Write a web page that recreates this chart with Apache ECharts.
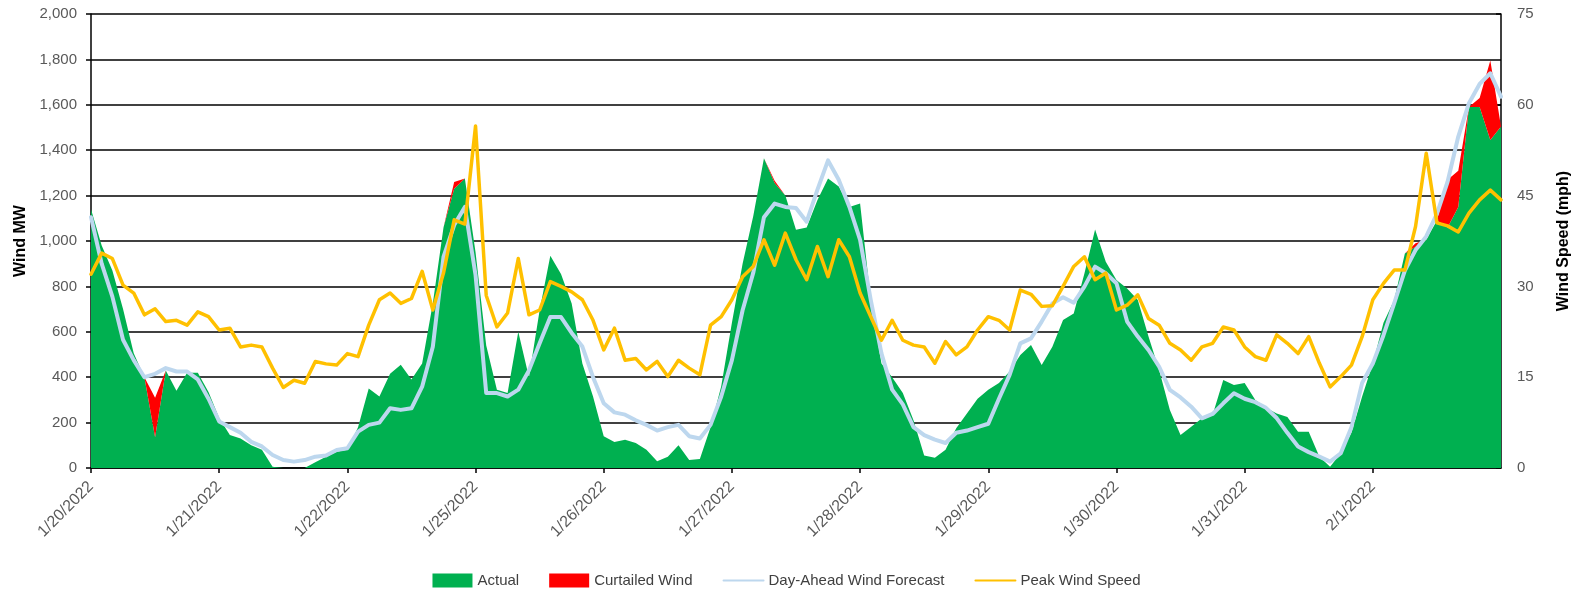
<!DOCTYPE html>
<html>
<head>
<meta charset="utf-8">
<script src="https://cdn.jsdelivr.net/npm/echarts@6/dist/echarts.min.js"></script>
<style>
html,body{margin:0;padding:0;background:#fff;}
#chart{width:1573px;height:589px;}
</style>
</head>
<body>
<div id="chart"></div>
<script>
// Day labels (data has 2-hour steps; 1/23 and 1/24 are absent in the source)
const days = ['1/20/2022','1/21/2022','1/22/2022','1/25/2022','1/26/2022','1/27/2022','1/28/2022','1/29/2022','1/30/2022','1/31/2022','2/1/2022'];
const slotHours = ['0:00','2:00','4:00','6:00','8:00','10:00','12:00','14:00','16:00','18:00','20:00','22:00'];
const endLabel = '2/2/2022 0:00';

// Actual wind generation (MW)
const actual = [
 1140, 980, 870, 700, 505, 400, 135, 430, 340, 420,
 420, 335, 220, 145, 130, 100, 80, 5, 0, 0,
 0, 25, 50, 72, 80, 180, 350, 315, 415, 455,
 390, 460, 725, 1060, 1230, 1275, 950, 540, 345, 330,
 600, 400, 695, 935, 855, 725, 460, 315, 140, 115,
 125, 110, 80, 30, 50, 100, 35, 40, 180, 360,
 640, 900, 1110, 1365, 1255, 1200, 1050, 1060, 1180, 1275,
 1240, 1150, 1165, 740, 460, 400, 330, 210, 55, 45,
 80, 175, 240, 305, 345, 375, 425, 498, 542, 454,
 534, 652, 681, 857, 1051, 909, 828, 791, 740, 579,
 431, 256, 145, 182, 219, 233, 388, 366, 375, 300,
 265, 240, 225, 160, 160, 50, 5, 65, 155, 315,
 460, 640, 740, 945, 975, 1005, 1090, 1060, 1150, 1590,
 1590, 1445, 1504
];

// Curtailed wind (MW, stacked on top of actual)
const curtailed = [
 0, 0, 0, 0, 0, 0, 175, 0, 0, 0,
 0, 0, 0, 0, 0, 0, 0, 0, 0, 0,
 0, 0, 0, 0, 0, 0, 0, 0, 0, 0,
 0, 0, 0, 0, 30, 0, 0, 0, 0, 0,
 0, 0, 0, 0, 0, 0, 0, 0, 0, 0,
 0, 0, 0, 0, 0, 0, 0, 0, 0, 0,
 0, 0, 0, 0, 10, 0, 0, 0, 0, 0,
 0, 0, 0, 0, 0, 0, 0, 0, 0, 0,
 0, 0, 0, 0, 0, 0, 0, 0, 0, 0,
 0, 0, 0, 0, 0, 0, 0, 0, 0, 0,
 0, 0, 0, 0, 0, 0, 0, 0, 0, 0,
 0, 0, 0, 0, 0, 0, 0, 0, 0, 0,
 0, 0, 0, 0, 15, 0, 0, 210, 160, 0,
 40, 350, 0
];

// Day-ahead wind forecast (MW)
const forecast = [
 1105, 900, 755, 565, 475, 400, 415, 440, 425, 425,
 390, 305, 205, 180, 155, 115, 95, 57, 35, 28,
 35, 50, 55, 79, 87, 160, 190, 200, 263, 256,
 263, 358, 534, 930, 1070, 1150, 850, 330, 330, 315,
 345, 430, 550, 665, 665, 595, 535, 400, 285, 245,
 235, 210, 190, 165, 180, 190, 140, 130, 190, 315,
 475, 695, 860, 1105, 1165, 1150, 1145, 1085, 1225, 1355,
 1270, 1150, 1005, 740, 505, 345, 280, 180, 145, 125,
 110, 155, 165, 180, 195, 305, 410, 549, 571, 645,
 725, 752, 728, 799, 887, 858, 814, 645, 579, 520,
 446, 344, 311, 270, 219, 238, 285, 329, 305, 290,
 265, 220, 155, 95, 70, 50, 28, 65, 180, 375,
 460, 585, 725, 870, 960, 1020, 1120, 1261, 1460, 1607,
 1692, 1739, 1636
];

// Peak wind speed (mph)
const windSpeed = [
 32.0, 35.5, 34.6, 30.2, 28.9, 25.3, 26.3, 24.2, 24.4, 23.6,
 25.8, 25.0, 22.8, 23.1, 20.0, 20.3, 20.0, 16.5, 13.3, 14.5,
 14.0, 17.6, 17.2, 17.0, 18.9, 18.4, 23.6, 27.8, 28.9, 27.2,
 28.0, 32.5, 26.1, 32.2, 41.0, 40.3, 56.5, 28.5, 23.3, 25.6,
 34.6, 25.3, 26.1, 30.8, 30.0, 29.1, 27.8, 24.4, 19.5, 23.1,
 17.8, 18.1, 16.2, 17.6, 15.1, 17.8, 16.5, 15.4, 23.6, 25.0,
 27.8, 31.6, 33.3, 37.7, 33.5, 38.8, 34.4, 31.1, 36.6, 31.6,
 37.7, 34.9, 28.9, 25.0, 21.1, 24.4, 21.1, 20.3, 20.0, 17.3,
 20.9, 18.7, 20.0, 22.8, 25.0, 24.4, 22.8, 29.4, 28.7, 26.7,
 26.8, 30.0, 33.3, 34.9, 31.1, 32.2, 26.1, 26.9, 28.6, 24.7,
 23.6, 20.6, 19.5, 17.8, 20.0, 20.6, 23.3, 22.8, 20.0, 18.4,
 17.8, 22.0, 20.6, 18.9, 21.7, 17.3, 13.4, 15.1, 17.0, 21.7,
 27.8, 30.5, 32.7, 32.7, 39.9, 52.0, 40.5, 40.0, 39.0, 42.1,
 44.3, 45.9, 44.3
];

const categories = [];
days.forEach(d => slotHours.forEach(h => categories.push(d + ' ' + h)));
categories.push(endLabel);

const SLOTS = slotHours.length;
const LAST = days.length * SLOTS;
const dayTick = (idx) => idx % SLOTS === 0 && idx < LAST;

const FONT = 'Liberation Sans';
const chart = echarts.init(document.getElementById('chart'), null, {renderer: 'canvas'});
chart.setOption({
  animation: false,
  backgroundColor: '#ffffff',
  textStyle: {fontFamily: FONT},
  grid: {left: 91, right: 72, top: 14, bottom: 121, containLabel: false, outerBoundsMode: 'none'},
  legend: {
    left: 'center',
    top: 568,
    itemWidth: 40,
    itemHeight: 14,
    itemGap: 30,
    textStyle: {fontFamily: FONT, fontSize: 15, color: '#404040'},
    data: [
      {name: 'Actual', icon: 'rect'},
      {name: 'Curtailed Wind', icon: 'rect'},
      {name: 'Day-Ahead Wind Forecast', itemStyle: {opacity: 0}},
      {name: 'Peak Wind Speed', itemStyle: {opacity: 0}}
    ]
  },
  xAxis: {
    type: 'category',
    data: categories,
    boundaryGap: false,
    axisLine: {lineStyle: {color: '#000', width: 1.5}},
    axisTick: {show: true, interval: (i) => dayTick(i), length: 5, lineStyle: {color: '#000', width: 1.5}},
    axisLabel: {
      interval: (i) => dayTick(i),
      rotate: 45,
      margin: 16,
      fontFamily: FONT,
      fontSize: 16,
      color: '#595959',
      formatter: (v) => v.split(' ')[0]
    },
    splitLine: {show: false}
  },
  yAxis: [
    {
      type: 'value',
      min: 0, max: 2000, interval: 200,
      name: 'Wind MW',
      nameLocation: 'middle',
      nameRotate: 90,
      nameGap: 60,
      nameTextStyle: {fontFamily: FONT, fontSize: 16, fontWeight: 'bold', color: '#000'},
      axisLine: {show: true, lineStyle: {color: '#000', width: 1.5}},
      axisTick: {show: true, length: 5, lineStyle: {color: '#000', width: 1.5}},
      axisLabel: {
        margin: 14, fontFamily: FONT, fontSize: 15, color: '#595959',
        formatter: (v) => v.toLocaleString('en-US')
      },
      splitLine: {show: true, lineStyle: {color: '#000', width: 1.5}}
    },
    {
      type: 'value',
      min: 0, max: 75, interval: 15,
      position: 'right',
      name: 'Wind Speed (mph)',
      nameLocation: 'middle',
      nameRotate: 90,
      nameGap: 55,
      nameTextStyle: {fontFamily: FONT, fontSize: 16, fontWeight: 'bold', color: '#000'},
      axisLine: {show: true, lineStyle: {color: '#000', width: 1.5}},
      axisTick: {show: true, inside: true, length: 5, lineStyle: {color: '#000', width: 1.5}},
      axisLabel: {margin: 16, fontFamily: FONT, fontSize: 15, color: '#595959'},
      splitLine: {show: false}
    }
  ],
  series: [
    {
      name: 'Actual',
      type: 'line',
      stack: 'gen',
      data: actual,
      symbol: 'none',
      showSymbol: false,
      color: '#00B050',
      itemStyle: {color: '#00B050'},
      lineStyle: {width: 0, color: '#00B050'},
      areaStyle: {color: '#00B050', opacity: 1},
      z: 2
    },
    {
      name: 'Curtailed Wind',
      type: 'line',
      stack: 'gen',
      data: curtailed,
      symbol: 'none',
      showSymbol: false,
      color: '#FF0000',
      itemStyle: {color: '#FF0000'},
      lineStyle: {width: 0, color: '#FF0000'},
      areaStyle: {color: '#FF0000', opacity: 1},
      z: 2
    },
    {
      name: 'Day-Ahead Wind Forecast',
      type: 'line',
      data: forecast,
      symbol: 'none',
      showSymbol: false,
      color: '#BDD7EE',
      lineStyle: {width: 4, color: '#BDD7EE', cap: 'round', join: 'round'},
      z: 3
    },
    {
      name: 'Peak Wind Speed',
      type: 'line',
      yAxisIndex: 1,
      data: windSpeed,
      symbol: 'none',
      showSymbol: false,
      color: '#FFC000',
      lineStyle: {width: 3.5, color: '#FFC000', cap: 'round', join: 'round'},
      z: 4
    }
  ]
});
</script>
</body>
</html>
